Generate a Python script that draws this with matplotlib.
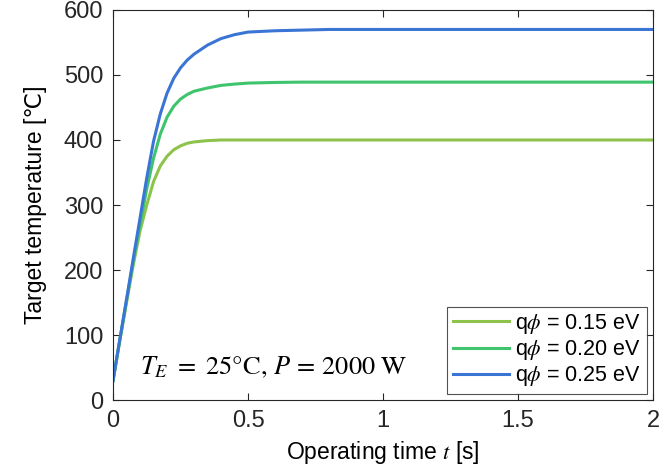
import matplotlib
matplotlib.use('Agg')
import matplotlib.pyplot as plt
import numpy as np

# values
t = [0, 0.025, 0.05, 0.075, 0.1, 0.125, 0.15, 0.175, 0.2, 0.225, 0.25, 0.275,
     0.3, 0.35, 0.4, 0.45, 0.5, 0.6, 0.7, 0.8, 1.0, 1.5, 2.0]
T_015 = [30, 91, 150, 208, 260, 300, 336, 360, 375, 385, 391, 395,
         397, 399, 400, 400, 400, 400, 400, 400, 400, 400, 400]
T_020 = [30, 92, 153, 213, 270, 325, 372, 409, 435, 452, 463, 470,
         475, 480, 484, 486, 487.5, 488.5, 489, 489, 489, 489, 489]
T_025 = [30, 93, 155, 218, 280, 342, 398, 440, 472, 495, 511, 523,
         532, 546, 556, 562, 566, 568, 569, 570, 570, 570, 570]
labels = [r'q$\phi$ = 0.15 eV', r'q$\phi$ = 0.20 eV', r'q$\phi$ = 0.25 eV']
colors = ['#8dc34b', '#3ec46d', '#3a75d6']

plt.rcParams['font.family'] = ['Liberation Sans', 'DejaVu Sans']
plt.rcParams['mathtext.fontset'] = 'stix'

fig = plt.figure(figsize=(6.61, 4.74), dpi=100)
ax = fig.add_axes([0.171, 0.156, 0.817, 0.823])

for T, lab, c in zip([T_015, T_020, T_025], labels, colors):
    ax.plot(t, T, color=c, linewidth=2.2, label=lab, solid_joinstyle='round')

ax.set_xlim(0, 2)
ax.set_ylim(0, 600)
ax.set_xticks([0, 0.5, 1, 1.5, 2])
ax.set_xticklabels(['0', '0.5', '1', '1.5', '2'])
ax.set_yticks(np.arange(0, 601, 100))
ax.tick_params(direction='in', top=True, right=True, labelsize=17,
               colors='#262626', length=5, width=0.8, pad=7)
for s in ax.spines.values():
    s.set_color('#262626')
    s.set_linewidth(0.8)

ax.set_xlabel(r'Operating time $t$ [s]', fontsize=16.5, color='black', labelpad=5)
ax.set_ylabel('Target temperature [\u2103]', fontsize=16.5, color='black', labelpad=12)

ax.text(0.1, 50, r'$T_E\ =\ 25\mathrm{\degree C},\,P\,=\,2000\ \mathrm{W}$',
        fontsize=19, va='center', ha='left')

leg = ax.legend(loc='lower right', fontsize=15.5, frameon=True, fancybox=False,
                edgecolor='#262626', handlelength=2.6, borderpad=0.25,
                labelspacing=0.1, handletextpad=0.3, borderaxespad=0.3)
leg.get_frame().set_linewidth(0.8)

fig.savefig('out.png', dpi=100)
